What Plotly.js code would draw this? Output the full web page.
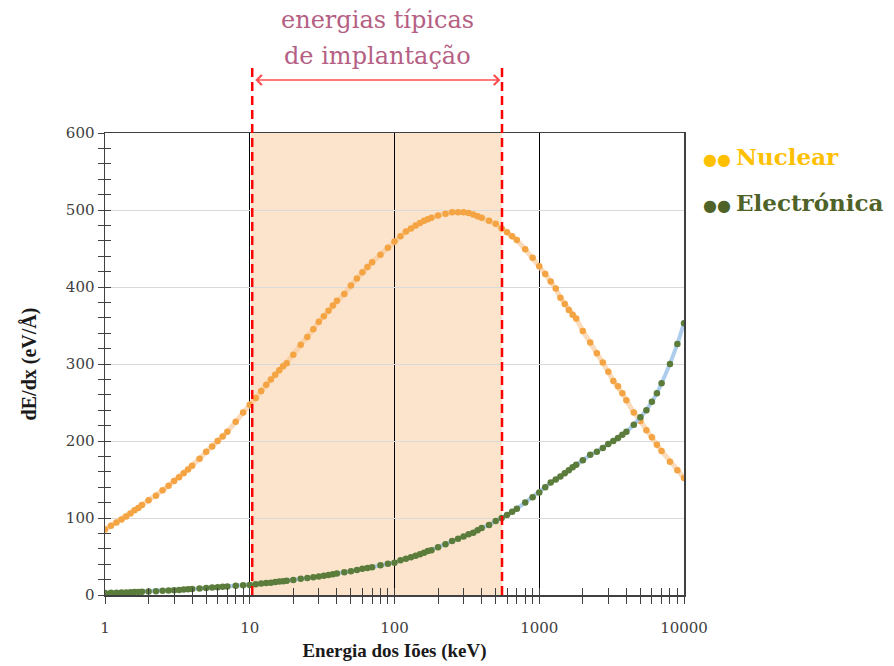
<!DOCTYPE html>
<html>
<head>
<meta charset="utf-8">
<script src="https://cdn.plot.ly/plotly-3.0.1.min.js"></script>
<style>
  html, body { margin: 0; padding: 0; background: #ffffff; }
  #chart { width: 894px; height: 666px; }
</style>
</head>
<body>
<div id="chart"></div>
<script>
// Ion energy (keV), SRIM-style energy grid
const energy = [
  1, 1.1, 1.2, 1.3, 1.4, 1.5, 1.6, 1.7, 1.8, 2, 2.25, 2.5, 2.75, 3, 3.25, 3.5, 3.75, 4, 4.5, 5, 5.5, 6, 6.5, 7, 8, 9,
  10, 11, 12, 13, 14, 15, 16, 17, 18, 20, 22.5, 25, 27.5, 30, 32.5, 35, 37.5, 40, 45, 50, 55, 60, 65, 70, 80, 90,
  100, 110, 120, 130, 140, 150, 160, 170, 180, 200, 225, 250, 275, 300, 325, 350, 375, 400, 450, 500, 550, 600, 650, 700, 800, 900,
  1000, 1100, 1200, 1300, 1400, 1500, 1600, 1700, 1800, 2000, 2250, 2500, 2750, 3000, 3250, 3500, 3750, 4000, 4500, 5000, 5500, 6000, 6500, 7000, 8000, 9000,
  10000
];

// Nuclear stopping power dE/dx (eV/Å)
const nuclear = [
  85, 90, 94, 98, 102, 106, 110, 113, 117, 123, 129, 136, 142, 148, 153, 158, 163, 168, 177, 186, 193, 200, 206, 212, 225, 237,
  247, 256, 265, 273, 280, 286, 292, 297, 301, 312, 325, 335, 345, 355, 362, 369, 376, 382, 391, 402, 411, 419, 426, 432, 442, 451,
  459, 466, 472, 476, 480, 483, 486, 488, 490, 493, 495, 497, 497, 497, 496, 494, 492, 490, 486, 482, 476, 471, 466, 461, 449, 438,
  427, 417, 407, 398, 386, 378, 370, 364, 359, 343, 328, 314, 302, 290, 278, 271, 262, 253, 237, 226, 214, 205, 195, 187, 173, 162,
  152
];

// Electronic stopping power dE/dx (eV/Å)
const electronic = [
  2.5, 2.8, 3, 3.2, 3.4, 3.6, 3.8, 4, 4.1, 4.5, 5, 5.4, 5.8, 6.2, 6.6, 7, 7.4, 7.7, 8.4, 9, 9.6, 10.2, 10.7, 11.2, 12, 12.6,
  13, 14, 15, 15.5, 16, 17, 17.5, 18, 18.5, 19.5, 21, 22, 23, 24, 25, 26, 27, 28, 29.5, 31, 32.5, 34, 35, 36, 38.5, 40.5,
  42, 45, 47, 49, 51, 53, 55, 57, 58, 62, 66, 70, 73, 76, 79, 81, 84, 87, 91, 96, 100, 104, 108, 112, 120, 127,
  133, 140, 146, 150, 154, 158, 162, 166, 169, 175, 182, 186, 191, 196, 200, 204, 208, 212, 221, 231, 240, 251, 262, 275, 300, 326,
  353
];

// Axis ticks
const xDecades = [1, 10, 100, 1000, 10000];
const xDecadeLabels = ['1', '10', '100', '1000', '10000'];
const xMinor = [2, 3, 4, 5, 6, 7, 8, 9, 20, 30, 40, 50, 60, 70, 80, 90,
  200, 300, 400, 500, 600, 700, 800, 900, 2000, 3000, 4000, 5000, 6000, 7000, 8000, 9000];
const yTicks = [0, 100, 200, 300, 400, 500, 600];

// Typical implantation energy window (keV)
const implantLow = 10.4;
const implantHigh = 553;

const axisColor = '#404040';
const tickFont = { family: 'DejaVu Serif', size: 15, color: '#404040' };

const traces = [
  {
    x: energy, y: nuclear, name: 'Nuclear',
    type: 'scatter', mode: 'lines+markers',
    line: { color: 'rgba(248,200,150,0.65)', width: 5 },
    marker: { color: '#f4a443', size: 6.5 },
    showlegend: false, hoverinfo: 'x+y'
  },
  {
    x: energy, y: electronic, name: 'Electrónica',
    xaxis: 'x2', yaxis: 'y2',
    type: 'scatter', mode: 'lines+markers',
    line: { color: 'rgba(160,196,234,0.85)', width: 4 },
    marker: { color: '#5b7c3a', size: 6.5 },
    showlegend: false, hoverinfo: 'x+y'
  }
];

const layout = {
  width: 894, height: 666,
  margin: { l: 105, r: 210, t: 133, b: 71 },
  paper_bgcolor: '#ffffff', plot_bgcolor: '#ffffff',
  showlegend: false,
  xaxis: {
    type: 'log', range: [0, 4],
    tickmode: 'array', tickvals: xDecades, ticktext: xDecadeLabels,
    ticks: 'outside', ticklen: 7, tickwidth: 1, tickcolor: axisColor,
    minor: { tickmode: 'array', tickvals: xMinor, ticks: 'outside', ticklen: 7, tickwidth: 1, tickcolor: axisColor, showgrid: false },
    showgrid: true, gridcolor: '#000000', gridwidth: 1,
    showline: true, linecolor: axisColor, linewidth: 1.5, mirror: true,
    zeroline: false,
    ticklabelstandoff: 11,
    tickfont: tickFont,
    title: { text: '<b>Energia dos Iões (keV)</b>', font: { family: 'Liberation Serif', size: 19, color: '#1a1a1a' }, standoff: 8 }
  },
  yaxis: {
    range: [0, 600],
    tickmode: 'array', tickvals: yTicks,
    ticks: 'outside', ticklen: 6, tickwidth: 1, tickcolor: axisColor,
    minor: { tickmode: 'linear', tick0: 0, dtick: 20, ticks: 'outside', ticklen: 6, tickwidth: 1, tickcolor: axisColor, showgrid: false },
    showgrid: true, gridcolor: '#d9d9d9', gridwidth: 1,
    showline: true, linecolor: axisColor, linewidth: 1.5, mirror: true,
    zeroline: false,
    tickfont: tickFont,
    title: { text: '<b>dE/dx (eV/Å)</b>', font: { family: 'Liberation Serif', size: 20, color: '#1a1a1a' }, standoff: 24 }
  },
  // Companion axes carry the inner half of each crossing tick mark
  xaxis2: {
    type: 'log', range: [0, 4], overlaying: 'x', anchor: 'y2',
    tickmode: 'array', tickvals: xDecades.concat(xMinor),
    ticks: 'inside', ticklen: 7, tickwidth: 1, tickcolor: axisColor,
    showticklabels: false, showgrid: false, showline: false, zeroline: false
  },
  yaxis2: {
    range: [0, 600], overlaying: 'y', anchor: 'x2', side: 'left',
    tickmode: 'linear', tick0: 0, dtick: 20,
    ticks: 'inside', ticklen: 6, tickwidth: 1, tickcolor: axisColor,
    showticklabels: false, showgrid: false, showline: false, zeroline: false
  },
  shapes: [
    {
      type: 'rect', layer: 'below',
      xref: 'x', yref: 'y', x0: implantLow - 0.2, x1: implantHigh, y0: 0, y1: 600,
      fillcolor: '#fbe4cb', line: { width: 0 }
    },
    {
      type: 'line', layer: 'above',
      xref: 'x', yref: 'paper', x0: implantLow, x1: implantLow, y0: 0, y1: 1.1407,
      line: { color: '#ff0000', width: 2.5, dash: '9px,5px' }
    },
    {
      type: 'line', layer: 'above',
      xref: 'x', yref: 'paper', x0: implantHigh, x1: implantHigh, y0: 0, y1: 1.1407,
      line: { color: '#ff0000', width: 2.5, dash: '9px,5px' }
    }
  ],
  annotations: [
    {
      xref: 'x', yref: 'paper',
      x: Math.log10(implantHigh * 0.975), y: 1.1147,
      axref: 'x', ayref: 'pixel',
      ax: Math.log10(implantLow * 1.025), ay: 0,
      text: '', showarrow: true,
      arrowside: 'end+start', arrowhead: 4, startarrowhead: 4,
      arrowsize: 1.3, startarrowsize: 1.3, arrowwidth: 1.5, arrowcolor: '#ff4d4d'
    },
    {
      xref: 'paper', yref: 'paper', x: 0.4698, y: 1.2445,
      xanchor: 'center', yanchor: 'middle', showarrow: false,
      text: 'energias típicas',
      font: { family: 'DejaVu Serif', size: 24, color: '#b55f84' }
    },
    {
      xref: 'paper', yref: 'paper', x: 0.4698, y: 1.1665,
      xanchor: 'center', yanchor: 'middle', showarrow: false,
      text: 'de implantação',
      font: { family: 'DejaVu Serif', size: 24, color: '#b55f84' }
    },
    {
      xref: 'paper', yref: 'paper', x: 1.029, y: 0.950,
      xanchor: 'left', yanchor: 'middle', showarrow: false,
      text: '<span style="font-size:16px">●● </span><b>Nuclear</b>',
      font: { family: 'DejaVu Serif', size: 23, color: '#ffc000' }
    },
    {
      xref: 'paper', yref: 'paper', x: 1.029, y: 0.8485,
      xanchor: 'left', yanchor: 'middle', showarrow: false,
      text: '<span style="font-size:16px">●● </span><b>Electrónica</b>',
      font: { family: 'DejaVu Serif', size: 23, color: '#4f6228' }
    }
  ]
};

Plotly.newPlot('chart', traces, layout, { displayModeBar: false, staticPlot: true });
</script>
</body>
</html>
